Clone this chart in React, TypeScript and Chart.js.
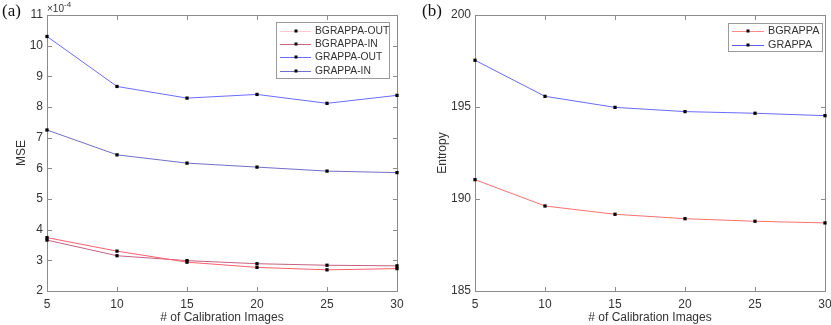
import React, { useEffect, useRef } from "react";
import { Chart, registerables } from "chart.js";
Chart.register(...registerables);

// ---------- data ----------
const calibrationImages = ["5", "10", "15", "20", "25", "30"];
// MSE values in units of 1e-4
const mseBgrappaOut = [3.74, 3.30, 2.94, 2.77, 2.69, 2.73];
const mseBgrappaIn = [3.66, 3.15, 2.99, 2.89, 2.84, 2.82];
const mseGrappaOut = [10.30, 8.67, 8.29, 8.41, 8.12, 8.38];
const mseGrappaIn = [7.25, 6.44, 6.17, 6.04, 5.91, 5.86];
const entropyBgrappa = [191.05, 189.62, 189.17, 188.93, 188.79, 188.70];
const entropyGrappa = [197.54, 195.58, 194.98, 194.75, 194.66, 194.53];
const mseTicks = [2, 3, 4, 5, 6, 7, 8, 9, 10, 11];
const entropyTicks = [185, 190, 195, 200];

const FONT = '"Liberation Sans", Arial, sans-serif';
const AXIS_COLOR = "#8c8c8c";
const TEXT_COLOR = "#333333";

const framePlugin = {
  id: "matlabFrame",
  beforeDatasetsDraw(chart: any) {
    const { ctx, chartArea: a, scales } = chart;
    ctx.save();
    ctx.strokeStyle = AXIS_COLOR;
    ctx.lineWidth = 1;
    const L = Math.round(a.left) + 0.5;
    const R = Math.round(a.right) + 0.5;
    const T = Math.round(a.top) + 0.5;
    const B = Math.round(a.bottom) + 0.5;
    ctx.strokeRect(L, T, R - L, B - T);
    const tl = 4.5;
    ctx.beginPath();
    scales.x.ticks.forEach((_t: any, i: number) => {
      const px = Math.round(scales.x.getPixelForTick(i)) + 0.5;
      ctx.moveTo(px, B);
      ctx.lineTo(px, B - tl);
      ctx.moveTo(px, T);
      ctx.lineTo(px, T + tl);
    });
    scales.y.ticks.forEach((t: any) => {
      const py = Math.round(scales.y.getPixelForValue(t.value)) + 0.5;
      ctx.moveTo(L, py);
      ctx.lineTo(L + tl, py);
      ctx.moveTo(R, py);
      ctx.lineTo(R - tl, py);
    });
    ctx.stroke();
    ctx.restore();
  },
};

const legendPlugin = {
  id: "matlabLegend",
  afterDraw(chart: any, _args: any, opts: any) {
    const { ctx } = chart;
    const { x, y, w, h, rowStart, rowGap, lineX0, lineX1, textX, colors, fontSize } = opts;
    ctx.save();
    ctx.fillStyle = "#ffffff";
    ctx.fillRect(x, y, w, h);
    ctx.strokeStyle = "#9a9a9a";
    ctx.lineWidth = 1;
    ctx.strokeRect(x + 0.5, y + 0.5, w, h);
    chart.data.datasets.forEach((ds: any, i: number) => {
      const ry = Math.round(y + rowStart + i * rowGap) + 0.5;
      ctx.strokeStyle = colors[i];
      ctx.lineWidth = 1;
      ctx.beginPath();
      ctx.moveTo(lineX0, ry);
      ctx.lineTo(lineX1, ry);
      ctx.stroke();
      ctx.fillStyle = "#000";
      const cx = Math.round((lineX0 + lineX1) / 2);
      ctx.fillRect(cx - 1.5, ry - 2, 3, 3);
      ctx.fillStyle = TEXT_COLOR;
      ctx.font = `${fontSize}px ${FONT}`;
      ctx.textBaseline = "middle";
      ctx.textAlign = "left";
      ctx.fillText(ds.label, textX, ry);
    });
    ctx.restore();
  },
};

function ds(label: string, data: number[], color: string) {
  return {
    label,
    data,
    borderColor: color,
    backgroundColor: color,
    borderWidth: 1,
    pointRadius: 2.3,
    pointStyle: "rect",
    pointBackgroundColor: "#000",
    pointBorderWidth: 0,
    clip: false,
    tension: 0,
  };
}

function makeConfig(
  datasets: any[],
  yTicks: number[],
  yTitle: string,
  yWidth: number,
  padRight: number,
  titlePad: number,
  legend: any
): any {
  return {
    type: "line",
    data: { labels: calibrationImages, datasets },
    options: {
      animation: false,
      responsive: false,
      devicePixelRatio: 1,
      layout: { padding: { left: 0, right: padRight, top: 15, bottom: 0 } },
      plugins: {
        legend: { display: false },
        tooltip: { enabled: false },
        matlabLegend: legend,
      },
      scales: {
        x: {
          type: "category",
          offset: false,
          grid: { display: false, drawTicks: false },
          border: { display: false },
          ticks: {
            color: TEXT_COLOR,
            font: { family: FONT, size: 12 },
            padding: 6,
            maxRotation: 0,
            autoSkip: false,
          },
          title: {
            display: true,
            text: "# of Calibration Images",
            color: TEXT_COLOR,
            font: { family: FONT, size: 12 },
            padding: { top: 0, bottom: 0 },
          },
          afterFit(scale: any) {
            scale.height = 34;
          },
        },
        y: {
          type: "linear",
          min: yTicks[0],
          max: yTicks[yTicks.length - 1],
          grid: { display: false, drawTicks: false },
          border: { display: false },
          afterBuildTicks(scale: any) {
            scale.ticks = yTicks.map((v) => ({ value: v }));
          },
          ticks: {
            color: TEXT_COLOR,
            font: { family: FONT, size: 12 },
            padding: 4,
          },
          title: {
            display: true,
            text: yTitle,
            color: TEXT_COLOR,
            font: { family: FONT, size: 12 },
            padding: { top: titlePad, bottom: 0 },
          },
          afterFit(scale: any) {
            scale.width = yWidth;
          },
        },
      },
    },
    plugins: [framePlugin, legendPlugin],
  };
}

export default function App() {
  const leftRef = useRef<HTMLCanvasElement>(null);
  const rightRef = useRef<HTMLCanvasElement>(null);

  useEffect(() => {
    document.body.style.margin = "0";
    document.body.style.overflow = "hidden";
    const left = new Chart(
      leftRef.current as HTMLCanvasElement,
      makeConfig(
        [
          ds("BGRAPPA-OUT", mseBgrappaOut, "#ff5f6e"),
          ds("BGRAPPA-IN", mseBgrappaIn, "#c8607e"),
          ds("GRAPPA-OUT", mseGrappaOut, "#6b6bff"),
          ds("GRAPPA-IN", mseGrappaIn, "#6f6fc8"),
        ],
        mseTicks,
        "MSE",
        47,
        18,
        14,
        {
          x: 276,
          y: 22,
          w: 113,
          h: 56,
          rowStart: 8.5,
          rowGap: 13.4,
          lineX0: 280,
          lineX1: 311,
          textX: 315,
          fontSize: 10.3,
          colors: ["#ffc8cc", "#cc6680", "#6b6bff", "#7070c8"],
        }
      )
    );
    const right = new Chart(
      rightRef.current as HTMLCanvasElement,
      makeConfig(
        [
          ds("BGRAPPA", entropyBgrappa, "#ff7070"),
          ds("GRAPPA", entropyGrappa, "#6a6aff"),
        ],
        entropyTicks,
        "Entropy",
        60,
        15,
        20,
        {
          x: 313,
          y: 23,
          w: 94,
          h: 28,
          rowStart: 7.5,
          rowGap: 14.3,
          lineX0: 317,
          lineX1: 349,
          textX: 353,
          fontSize: 10.8,
          colors: ["#ff8a8a", "#5c5cee"],
        }
      )
    );
    return () => {
      left.destroy();
      right.destroy();
    };
  }, []);

  return (
    <div style={{ position: "relative", width: 831, height: 325, overflow: "hidden", background: "#fff" }}>
      <canvas ref={leftRef} width={415} height={325} style={{ position: "absolute", left: 0, top: 0, display: "block" }} />
      <canvas ref={rightRef} width={425} height={325} style={{ position: "absolute", left: 415, top: 0, display: "block" }} />
      <div style={{ position: "absolute", left: 2, top: 1, font: '17px "Liberation Serif", "Times New Roman", serif', color: "#111" }}>(a)</div>
      <div style={{ position: "absolute", left: 422, top: 1, font: '17px "Liberation Serif", "Times New Roman", serif', color: "#111" }}>(b)</div>
      <div style={{ position: "absolute", left: 47, top: 1, font: `10px ${FONT}`, color: TEXT_COLOR, whiteSpace: "nowrap" }}>
        ×10<sup style={{ fontSize: 8, position: "relative", top: -1 }}>-4</sup>
      </div>
    </div>
  );
}
